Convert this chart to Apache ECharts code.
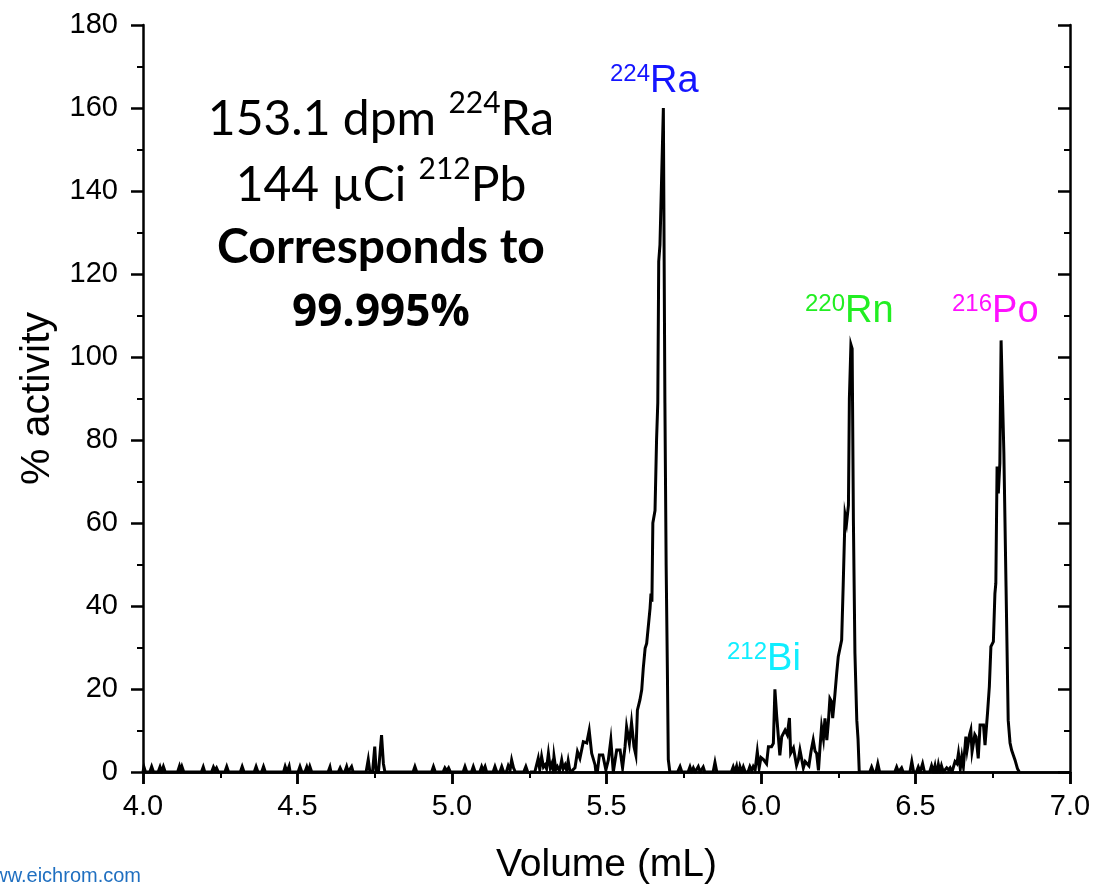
<!DOCTYPE html>
<html>
<head>
<meta charset="utf-8">
<title>Ra-224 / Pb-212 elution</title>
<script src="https://cdn.jsdelivr.net/npm/echarts/dist/echarts.min.js"></script>
<style>
  html, body { margin: 0; padding: 0; background: #fff; }
  #chart { width: 1094px; height: 891px; }
</style>
</head>
<body>
<div id="chart"></div>
<script>
  // axis ranges / ticks
  const volumeRange = [4.0, 7.0];
  const volumeStep = 0.5;
  const activityRange = [0, 180];
  const activityStep = 20;

  // [volume mL, % activity], segment by segment
  const baseline = [
    [4.000, 0], [4.003, 1.2], [4.008, 0], [4.022, 0], [4.028, 1.3], [4.034, 0], [4.049, 0], [4.055, 1.2],
    [4.060, 0], [4.066, 1.3], [4.072, 0], [4.112, 0], [4.118, 1.4], [4.122, 0.3], [4.126, 1.3], [4.132, 0],
    [4.189, 0], [4.195, 1.2], [4.200, 0], [4.222, 0], [4.228, 1.2], [4.233, 0.4], [4.238, 1.0], [4.244, 0],
    [4.265, 0], [4.271, 1.3], [4.277, 0], [4.315, 0], [4.321, 1.3], [4.327, 0], [4.360, 0], [4.366, 1.3],
    [4.372, 0], [4.384, 0], [4.390, 1.3], [4.396, 0], [4.455, 0], [4.460, 1.3], [4.466, 0], [4.473, 1.4],
    [4.478, -0.8], [4.484, 0], [4.502, 0], [4.508, 1.3], [4.514, 0], [4.524, 0], [4.530, 1.2], [4.535, 0],
    [4.540, 1.3], [4.546, 0], [4.599, 0], [4.605, 1.2], [4.610, -0.6], [4.615, 0], [4.632, 0], [4.638, 1.0],
    [4.644, 0], [4.653, 0], [4.659, 1.3], [4.664, 0], [4.669, 0], [4.675, 1.3], [4.680, 0], [4.722, 0],
    [4.729, 3.0], [4.736, -1.0], [4.743, 0], [4.750, 6.1], [4.756, -1.8], [4.762, 0], [4.772, 8.9], [4.778, 2.0],
    [4.783, 0], [4.874, 0], [4.880, 1.3], [4.886, 0], [4.934, 0], [4.940, 1.3], [4.946, 0], [4.971, 0],
    [4.977, 1.0], [4.983, 0.3], [4.989, 1.0], [4.995, 0], [5.036, 0], [5.042, 1.3], [5.048, 0], [5.063, 0],
    [5.069, 1.3], [5.075, 0], [5.090, 0], [5.096, 1.3], [5.101, 0.3], [5.107, 1.3], [5.112, 0], [5.133, 0],
    [5.139, 1.3], [5.145, 0], [5.155, 0], [5.161, 1.3], [5.167, 0], [5.176, 0], [5.182, 1.5], [5.188, 0.5],
    [5.193, 2.9], [5.199, 1.0], [5.205, 0], [5.232, 0], [5.239, 1.3], [5.245, 0], [5.250, -1.2], [5.256, 0],
    [5.268, 0]
  ];

  const ra224 = [
    [5.274, 0], [5.279, 3.3], [5.284, 0.6], [5.290, 3.7], [5.296, 1.2], [5.301, 1.7], [5.306, 0.8], [5.312, 4.5],
    [5.318, 1.0], [5.323, 2.0], [5.327, 0.5], [5.330, 3.8], [5.336, 0.6], [5.341, 1.3], [5.348, 0.2], [5.355, 2.9],
    [5.360, 0.8], [5.366, 1.7], [5.371, 0.4], [5.376, 2.7], [5.384, -0.8], [5.391, 0.5], [5.398, 1.0], [5.406, 4.9],
    [5.414, 3.3], [5.425, 7.3], [5.436, 7.0], [5.444, 10.0], [5.452, 4.5], [5.463, 1.7], [5.468, -1.5], [5.477, 4.1],
    [5.488, 4.1], [5.498, 0.5], [5.506, 2.9], [5.514, 7.7], [5.522, 0], [5.533, 5.3], [5.544, 5.3], [5.552, 1.0],
    [5.560, 6.1], [5.565, 10.9], [5.574, 6.9], [5.581, 11.9], [5.589, 6.1], [5.595, 4.1], [5.600, 14.9], [5.608, 17.3],
    [5.614, 19.8], [5.619, 25.0], [5.625, 29.8], [5.630, 31.0], [5.636, 31.0], [5.641, 39.5], [5.644, 43.0], [5.647, 41.0],
    [5.650, 60.0], [5.657, 63.0], [5.662, 80.0], [5.666, 89.0], [5.669, 123.0], [5.673, 127.0], [5.679, 145.0], [5.684, 160.0],
    [5.689, 89.0], [5.693, 50.0], [5.697, 24.6], [5.700, 3.0], [5.705, 0]
  ];

  const bi212 = [
    [5.730, 0], [5.738, 1.3], [5.744, 0], [5.764, 0], [5.770, 1.2], [5.775, 0], [5.781, 1.0], [5.787, 0],
    [5.792, 0], [5.797, 1.3], [5.803, 0], [5.808, 0], [5.813, 1.2], [5.818, 0], [5.845, 0], [5.851, 2.3],
    [5.857, 0], [5.904, 0], [5.910, 1.2], [5.915, 0], [5.921, 1.4], [5.927, -1.0], [5.932, 1.3], [5.938, 0],
    [5.943, 1.2], [5.949, 0], [5.958, 0], [5.964, 1.3], [5.970, 0.3], [5.975, 1.3], [5.981, 0.5], [5.988, 4.9],
    [5.994, 1.0], [6.000, 3.5], [6.008, 3.0], [6.018, 2.0], [6.024, 6.1], [6.034, 6.1], [6.040, 6.9], [6.045, 19.9],
    [6.051, 13.3], [6.056, 13.7], [6.061, 4.0], [6.067, 8.5], [6.078, 10.1], [6.085, 9.0], [6.092, 13.0], [6.096, 4.5],
    [6.105, 5.8], [6.115, 1.6], [6.121, 3.0], [6.126, 5.3], [6.137, 1.0], [6.143, 2.5], [6.148, 2.5], [6.155, 1.5],
    [6.162, 5.0], [6.169, 7.7], [6.175, 5.0], [6.180, 4.5], [6.186, 0.4], [6.191, 6.0], [6.196, 10.9], [6.202, 8.0],
    [6.207, 12.9], [6.213, 7.7], [6.218, 12.0], [6.223, 17.7], [6.228, 17.0], [6.232, 13.0], [6.239, 18.5], [6.245, 23.8],
    [6.250, 27.8], [6.256, 28.2], [6.261, 31.8]
  ];

  const rn220 = [
    [6.266, 45.0], [6.272, 62.0], [6.277, 60.0], [6.283, 64.3], [6.286, 90.0], [6.291, 103.0], [6.295, 102.0],
    [6.299, 60.7], [6.304, 28.6], [6.310, 12.5], [6.314, 8.0], [6.318, 0]
  ];

  const po216 = [
    [6.352, 0], [6.358, 1.2], [6.364, 0], [6.372, 0], [6.378, 2.0], [6.384, 0], [6.433, 0], [6.439, 1.2],
    [6.445, 0], [6.450, 0], [6.455, 1.0], [6.460, 0], [6.482, 0], [6.488, 2.5], [6.494, 0], [6.503, 0],
    [6.509, 1.2], [6.515, 0], [6.518, 0], [6.523, 2.0], [6.529, 0], [6.546, 0], [6.552, 1.5], [6.558, 0],
    [6.563, 1.5], [6.568, -0.8], [6.574, 1.8], [6.579, 0], [6.584, 1.5], [6.590, 0], [6.601, 1.0], [6.607, 0.5],
    [6.612, 1.0], [6.618, 0], [6.623, 0], [6.628, 2.5], [6.634, 2.0], [6.639, 4.5], [6.645, 0.8], [6.650, 3.7],
    [6.655, 1.3], [6.663, 8.5], [6.667, 5.3], [6.671, 5.3], [6.675, 9.0], [6.679, 10.1], [6.683, 4.9], [6.687, 4.9],
    [6.692, 9.0], [6.696, 8.5], [6.703, 3.3], [6.709, 11.3], [6.715, 11.5], [6.720, 11.3], [6.725, 6.5], [6.733, 14.1],
    [6.739, 20.6], [6.744, 30.2], [6.752, 31.4], [6.757, 43.0], [6.760, 45.5], [6.764, 73.6], [6.768, 67.1], [6.773, 74.4],
    [6.777, 104.0], [6.780, 104.0], [6.786, 76.8], [6.793, 44.7], [6.800, 12.5], [6.806, 7.0], [6.811, 5.3], [6.817, 4.0],
    [6.822, 2.9], [6.830, 0.8], [6.836, 0]
  ];

  const trace = baseline.concat(ra224, bi212, rn220, po216);

  const arial = 'Liberation Sans, Arial, sans-serif';
  const calib = 'Lato, Carlito, Calibri, sans-serif';
  const calibBold = '"Open Sans", Lato, sans-serif';

  // superscript label style (isotope labels)
  function isoRich(color) {
    return {
      m: { fontSize: 38, lineHeight: 40, fontFamily: arial, fill: color },
      s: { fontSize: 24, lineHeight: 14, verticalAlign: 'top', fontFamily: arial, fill: color }
    };
  }
  function blockRich(weight, family, size) {
    return {
      m: { fontSize: size, lineHeight: 64, fontFamily: family, fontWeight: weight, fontStyle: 'normal', fill: '#000' },
      s: { fontSize: 30, lineHeight: 46, verticalAlign: 'top', fontFamily: family, fontWeight: weight, fontStyle: 'normal', fill: '#000' }
    };
  }

  const chart = echarts.init(document.getElementById('chart'), null, { renderer: 'canvas' });

  const axisLineStyle = { color: '#000', width: 2.5 };
  const tickStyle = { color: '#000', width: 2.5 };
  const minorStyle = { color: '#000', width: 2 };

  chart.setOption({
    animation: false,
    backgroundColor: '#fff',
    grid: { left: 143, right: 24, top: 25, bottom: 119, containLabel: false },
    xAxis: [
      {
        type: 'value',
        min: volumeRange[0],
        max: volumeRange[1],
        interval: volumeStep,
        position: 'bottom',
        name: 'Volume (mL)',
        nameLocation: 'middle',
        nameGap: 74,
        nameTextStyle: { fontFamily: arial, fontSize: 39, color: '#000' },
        axisLine: { show: true, lineStyle: axisLineStyle },
        axisTick: { show: true, length: 12, lineStyle: tickStyle },
        minorTick: { show: true, splitNumber: 2, length: 6, lineStyle: minorStyle },
        axisLabel: {
          fontFamily: arial, fontSize: 29, color: '#000', margin: 20,
          formatter: v => v.toFixed(1)
        },
        splitLine: { show: false }
      },
      {
        type: 'value',
        min: volumeRange[0],
        max: volumeRange[1],
        interval: volumeStep,
        position: 'top',
        axisLine: { show: true, lineStyle: axisLineStyle },
        axisTick: { show: true, inside: true, length: 12, lineStyle: tickStyle },
        minorTick: { show: true, splitNumber: 2, length: 6, lineStyle: minorStyle },
        axisLabel: { show: false },
        splitLine: { show: false }
      }
    ],
    yAxis: [
      {
        type: 'value',
        min: activityRange[0],
        max: activityRange[1],
        interval: activityStep,
        position: 'left',
        name: '% activity',
        nameLocation: 'middle',
        nameGap: 85,
        nameTextStyle: { fontFamily: arial, fontSize: 41, color: '#000' },
        axisLine: { show: true, lineStyle: axisLineStyle },
        axisTick: { show: true, length: 12, lineStyle: tickStyle },
        minorTick: { show: true, splitNumber: 2, length: 6, lineStyle: minorStyle },
        axisLabel: { fontFamily: arial, fontSize: 29, color: '#000', margin: 25 },
        splitLine: { show: false }
      },
      {
        type: 'value',
        min: activityRange[0],
        max: activityRange[1],
        interval: activityStep,
        position: 'right',
        axisLine: { show: true, lineStyle: axisLineStyle },
        axisTick: { show: true, inside: true, length: 12, lineStyle: tickStyle },
        minorTick: { show: true, splitNumber: 2, length: 6, lineStyle: minorStyle },
        axisLabel: { show: false },
        splitLine: { show: false }
      }
    ],
    series: [
      {
        type: 'line',
        xAxisIndex: 0,
        yAxisIndex: 0,
        data: trace,
        showSymbol: false,
        symbol: 'none',
        lineStyle: { color: '#000', width: 3, join: 'miter' },
        z: 3
      }
    ],
    graphic: [
      // peak labels
      { type: 'text', x: 610, y: 62, z: 10, style: { text: '{s|224}{m|Ra}', rich: isoRich('#1515ff'), align: 'left', verticalAlign: 'top' } },
      { type: 'text', x: 805, y: 292, z: 10, style: { text: '{s|220}{m|Rn}', rich: isoRich('#22ee22'), align: 'left', verticalAlign: 'top' } },
      { type: 'text', x: 952, y: 292, z: 10, style: { text: '{s|216}{m|Po}', rich: isoRich('#ff10ff'), align: 'left', verticalAlign: 'top' } },
      { type: 'text', x: 727, y: 640, z: 10, style: { text: '{s|212}{m|Bi}', rich: isoRich('#10eeff'), align: 'left', verticalAlign: 'top' } },
      // text block
      { type: 'text', x: 381, y: 88, z: 10, style: { text: '{m|153.1 dpm }{s|224}{m|Ra}', rich: blockRich('normal', calib, 48), align: 'center', verticalAlign: 'top' } },
      { type: 'text', x: 381, y: 154, z: 10, style: { text: '{m|144 \u00b5Ci }{s|212}{m|Pb}', rich: blockRich('normal', calib, 48), align: 'center', verticalAlign: 'top' } },
      { type: 'text', x: 381, y: 216, z: 10, style: { text: '{m|Corresponds to}', rich: blockRich('bold', calib, 48), align: 'center', verticalAlign: 'top' } },
      { type: 'text', x: 381, y: 281, z: 10, style: { text: '{m|99.995%}', rich: blockRich('bold', calibBold, 44), align: 'center', verticalAlign: 'top' } },
      // source
      { type: 'text', x: 141, y: 886, z: 10, style: { text: 'www.eichrom.com', fontFamily: arial, fontSize: 20, fill: '#1f6fc0', align: 'right', verticalAlign: 'bottom' } }
    ]
  });
</script>
</body>
</html>
